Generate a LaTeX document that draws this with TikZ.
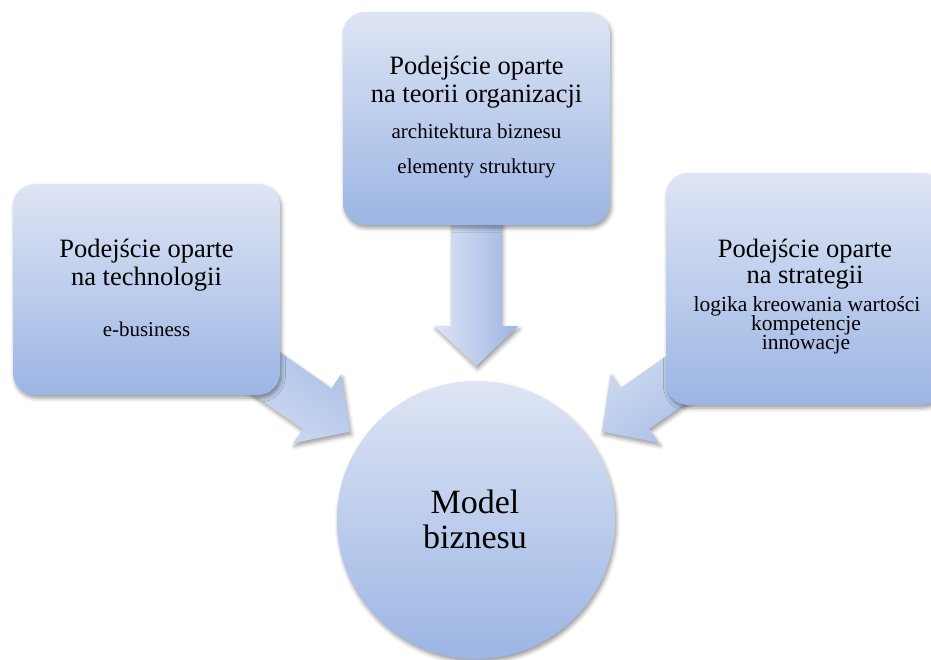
\documentclass[tikz,border=0pt]{standalone}
\usepackage{fontspec}
\setmainfont{Liberation Serif}
\newfontfamily\tnr{Liberation Serif}
\usetikzlibrary{calc,shadows.blur,backgrounds}
\definecolor{boxlight}{RGB}{222,229,244}
\definecolor{boxdark}{RGB}{156,181,228}
\tikzset{
  softshadow/.style={blur shadow={shadow xshift=1.5pt,shadow yshift=-3pt,shadow blur radius=4pt,shadow opacity=40}},
  card/.style={rectangle, rounded corners=22pt, draw=none, inner sep=0pt,
    top color=boxlight, bottom color=boxdark, softshadow},
  hub/.style={circle, draw=none, inner sep=0pt, minimum size=278pt,
    top color=boxlight, bottom color=boxdark, softshadow},
  arrowfill/.style={top color=boxdark, bottom color=boxlight, draw=none, softshadow},
  title/.style={anchor=base, inner sep=0pt, font=\tnr\fontsize{26.5}{28}\selectfont},
  sub/.style={anchor=base, inner sep=0pt, font=\tnr\fontsize{21}{24}\selectfont},
  subr/.style={anchor=base, inner sep=0pt, font=\tnr\fontsize{21.5}{24}\selectfont},
  big/.style={anchor=base, inner sep=0pt, font=\tnr\fontsize{34}{36}\selectfont}
}
\newcommand\blkarrow[3]{%
  \coordinate (#1-s) at (#1.center);
  \coordinate (#1-t) at ($(#2.center)!154pt!(#1.center)$);
  \coordinate (#1-b) at ($(#2.center)!194pt!(#1.center)$);
  \path[arrowfill, shading angle=#3]
    ($(#1-s)!25pt!90:(#1-t)$) -- ($(#1-b)!25pt!90:(#1-t)$) -- ($(#1-b)!42pt!90:(#1-t)$)
    -- (#1-t) -- ($(#1-b)!42pt!-90:(#1-t)$) -- ($(#1-b)!25pt!-90:(#1-t)$)
    -- ($(#1-s)!25pt!-90:(#1-t)$) -- cycle;
}
\begin{document}
\begin{tikzpicture}[x=1pt,y=-1pt,font=\tnr]
\useasboundingbox (0,0) rectangle (931,659);
% boxes and hub
\node[card, minimum width=267pt, minimum height=211pt] (lbox) at (146.5,289.5) {};
\node[card, minimum width=267pt, minimum height=213pt] (tbox) at (476.5,118.5) {};
\node[card, minimum width=278pt, minimum height=232pt] (rbox) at (805,289) {};
\node[hub] (model) at (476,520) {};
% block arrows behind
\begin{pgfonlayer}{background}
\blkarrow{lbox}{model}{-35}
\blkarrow{tbox}{model}{-90}
\blkarrow{rbox}{model}{-145}
\end{pgfonlayer}
% texts
\node[title] (l1) at (146.5,257) {Podejście oparte};
\node[title] (l2) at (146.5,285) {na technologii};
\node[sub]   (l3) at (146.5,336) {e-business};
\node[title] (t1) at (476.5,74) {Podejście oparte};
\node[title] (t2) at (476.5,102) {na teorii organizacji};
\node[sub]   (t3) at (476.5,138) {architektura biznesu};
\node[sub]   (t4) at (476.5,173) {elementy struktury};
\node[title] (r1) at (805,257) {Podejście oparte};
\node[title] (r2) at (805,283) {na strategii};
\node[subr]  (r3) at (807,311) {logika kreowania wartości};
\node[subr]  (r4) at (806,330.5) {kompetencje};
\node[subr]  (r5) at (806,349.5) {innowacje};
\node[big]   (m1) at (475,513) {Model};
\node[big]   (m2) at (475,548) {biznesu};
\end{tikzpicture}
\end{document}
